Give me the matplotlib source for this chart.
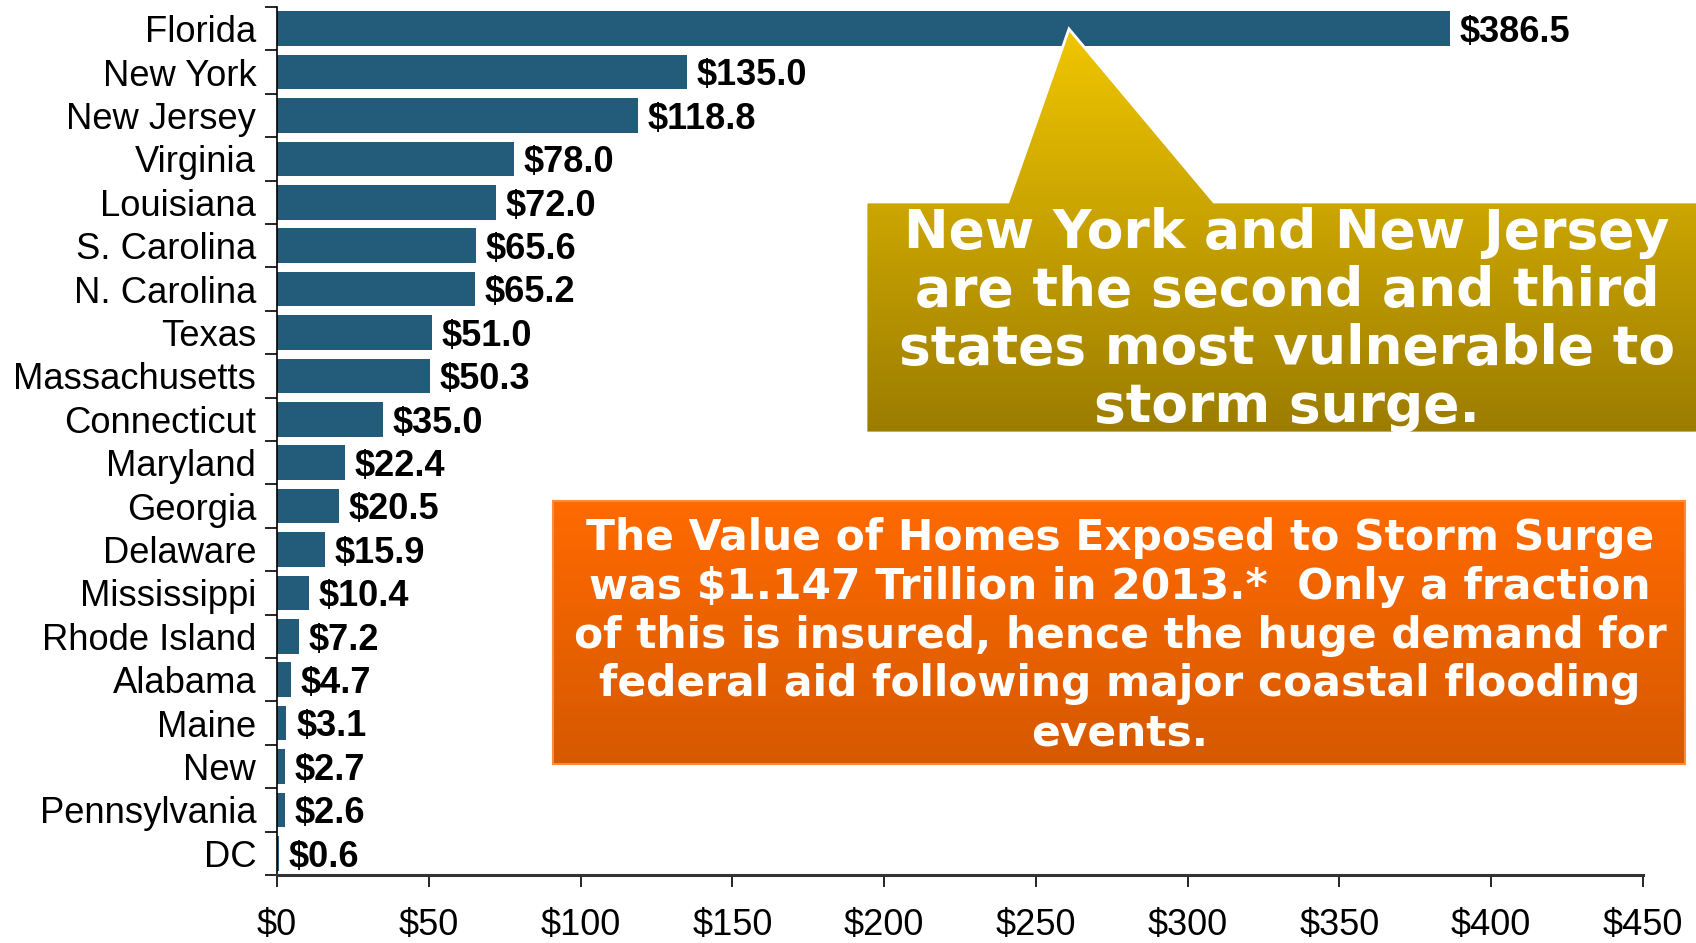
import numpy as np
import matplotlib
matplotlib.use("Agg")
import matplotlib.pyplot as plt
from matplotlib.patches import Polygon

# --- data: value of homes exposed to storm surge ($ billions) ---
states = ["Florida", "New York", "New Jersey", "Virginia", "Louisiana",
          "S. Carolina", "N. Carolina", "Texas", "Massachusetts", "Connecticut",
          "Maryland", "Georgia", "Delaware", "Mississippi", "Rhode Island",
          "Alabama", "Maine", "New", "Pennsylvania", "DC"]
values = [386.5, 135.0, 118.8, 78.0, 72.0,
          65.6, 65.2, 51.0, 50.3, 35.0,
          22.4, 20.5, 15.9, 10.4, 7.2,
          4.7, 3.1, 2.7, 2.6, 0.6]
x_ticks = list(range(0, 451, 50))
x_tick_labels = [f"${t}" for t in x_ticks]

callout_lines = ["New York and New Jersey",
                 "are the second and third",
                 "states most vulnerable to",
                 "storm surge."]
note_lines = ["The Value of Homes Exposed to Storm Surge",
              "was $1.147 Trillion in 2013.*  Only a fraction",
              "of this is insured, hence the huge demand for",
              "federal aid following major coastal flooding",
              "events."]

W, H = 1696, 943
BAR_COLOR = "#235c7b"

fig = plt.figure(figsize=(W / 100, H / 100), dpi=100)
fig.patch.set_facecolor("white")

ax = fig.add_axes([277 / W, 1 - 875 / H, (1643 - 277) / W, (875 - 7) / H])
pos = np.arange(len(states))
ax.barh(pos, values, height=0.8, color=BAR_COLOR, zorder=2)

# value labels, caps centred on each bar
for p, v in zip(pos, values):
    ax.annotate(f"${v:.1f}", xy=(v, p), xytext=(7, -9.6),
                textcoords="offset points", ha="left", va="baseline",
                fontsize=26, fontweight="bold", family="Liberation Sans")

ax.set_xlim(0, 450)
ax.set_ylim(len(states) - 0.5, -0.5)

# category boundaries get the tick marks, centres get the names
ax.set_yticks(np.arange(len(states) + 1) - 0.5)
ax.set_yticklabels([])
ax.set_yticks(pos, minor=True)
ax.set_yticklabels(states, minor=True, fontsize=26.2, family="Liberation Sans")
ax.tick_params(axis="y", which="major", direction="out", length=8.6, width=1.2)
ax.tick_params(axis="y", which="minor", length=0, pad=15)

ax.set_xticks(x_ticks)
ax.set_xticklabels(x_tick_labels, fontsize=26, family="Liberation Sans")
ax.tick_params(axis="x", direction="out", length=8.6, width=1.2, pad=15.5)

for s in ["top", "right"]:
    ax.spines[s].set_visible(False)
ax.spines["left"].set_linewidth(1.2)
ax.spines["bottom"].set_linewidth(2.2)
ax.spines["bottom"].set_color("#333333")

# --- overlay in pixel space for the two text boxes ---
ov = fig.add_axes([0, 0, 1, 1])
ov.set_xlim(0, W)
ov.set_ylim(H, 0)
ov.axis("off")
ov.patch.set_visible(False)


def gradient_fill(axis, verts, top_color, bottom_color, edge, lw):
    poly = Polygon(verts, closed=True, facecolor="none", edgecolor=edge,
                   linewidth=lw, zorder=3)
    axis.add_patch(poly)
    ys = [v[1] for v in verts]
    xs = [v[0] for v in verts]
    c0 = np.array(matplotlib.colors.to_rgb(top_color))
    c1 = np.array(matplotlib.colors.to_rgb(bottom_color))
    t = np.linspace(0, 1, 256)[:, None]
    img = (c0 * (1 - t) + c1 * t)[:, None, :]
    im = axis.imshow(img, extent=(min(xs), max(xs), max(ys), min(ys)),
                     aspect="auto", zorder=2, interpolation="bilinear")
    clip = Polygon(verts, closed=True, transform=axis.transData)
    im.set_clip_path(clip)


# yellow callout pointing at the top bar
callout = [(866, 202), (1008, 202), (1069, 29), (1214, 202),
           (1700, 202), (1700, 433), (866, 433)]
gradient_fill(ov, callout, "#f0c600", "#9c7c00", "white", 2.0)
for i, line in enumerate(callout_lines):
    ov.text(1287, 248 + i * 58, line, ha="center", va="baseline",
            fontsize=38.5, fontweight="bold", color="white",
            family="DejaVu Sans", zorder=4)

# orange note box
note = [(553, 501), (1685, 501), (1685, 764), (553, 764)]
gradient_fill(ov, note, "#ff6a00", "#d65900", "#ff8a3a", 1.5)
for i, line in enumerate(note_lines):
    ov.text(1120, 550 + i * 48.8, line, ha="center", va="baseline",
            fontsize=30.5, fontweight="bold", color="white",
            family="DejaVu Sans", zorder=4)

fig.savefig("out.png", dpi=100)
